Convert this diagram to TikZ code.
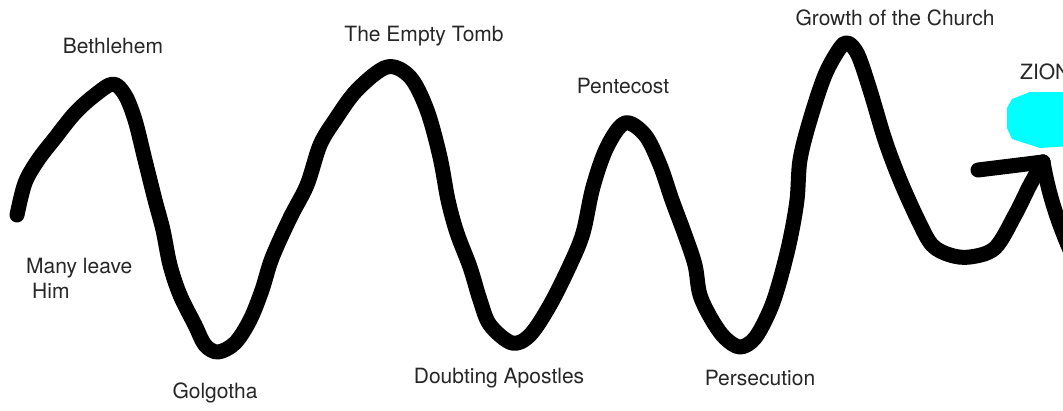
\documentclass[tikz,border=0pt]{standalone}
\usepackage{fontspec}
\setmainfont{TeX Gyre Heros}
\usetikzlibrary{positioning}
\definecolor{sion}{RGB}{0,255,255}

\begin{document}
\begin{tikzpicture}[x=1pt, y=-1pt,
    etiqueta/.style={text=black!85, font=\fontsize{21}{25}\selectfont, inner sep=0pt},
    trazo/.style={line width=15pt, line cap=round, line join=round}]
    \useasboundingbox (0,0) rectangle (1063,410);
    \clip (0,0) rectangle (1063,410);  % marco de la imagen

    % Zion
    \fill[sion] (1012,99) -- (1030,92) -- (1070,92) -- (1070,146) -- (1040,148)
        -- (1012,139) -- (1007,128) -- (1007,108) -- cycle;
    \node[etiqueta, anchor=west] (zion) at (1020,72) {ZION};

    % La linea ondulada
    \draw[trazo] plot[smooth, tension=0.55] coordinates {
        (17,215) (25,183) (38,160) (55,138) (75,113) (95,95) (113,84)
        (125,95) (135,120) (145,160) (155,200) (163,230) (170,265) (180,295)
        (195,325) (205,345) (218,352) (235,343) (250,320) (262,290) (272,258)
        (290,218) (307,185) (320,145) (335,120) (357,90) (387,67) (410,77)
        (427,110) (440,157) (448,200) (457,233) (470,267) (480,300) (490,325)
        (512,343) (530,335) (550,305) (570,265) (583,233) (593,187) (607,147)
        (625,123) (645,135) (660,165) (672,200) (685,235) (695,265) (700,295)
        (712,320) (725,338) (740,347) (755,338) (770,310) (780,280) (790,240)
        (797,200) (800,160) (810,120) (825,75) (840,48) (848,43) (858,55)
        (870,90) (885,140) (900,180) (918,220) (932,245) (950,255) (970,257)
        (995,248) (1015,215) (1030,185) (1043,162)};
    \draw[trazo] (1043,162) .. controls (1048,190) and (1055,215) .. (1070,250);
    \draw[trazo] (978,170) -- (1043,162);

    % Textos
    \node[etiqueta] (belen) at (113,46) {Bethlehem};
    \node[etiqueta] (tumba) at (424,36) {The Empty Tomb};
    \node[etiqueta] (pentecostes) at (623,86) {Pentecost};
    \node[etiqueta] (iglesia) at (895,18) {Growth of the Church};
    \node[etiqueta, anchor=north west, align=left] (abandono) at (26,258)
        {Many leave\\\hspace*{6pt}Him};
    \node[etiqueta] (golgota) at (215,393) {Golgotha};
    \node[etiqueta] (dudas) at (499,378) {Doubting Apostles};
    \node[etiqueta] (persecucion) at (760,378) {Persecution};
\end{tikzpicture}
\end{document}
